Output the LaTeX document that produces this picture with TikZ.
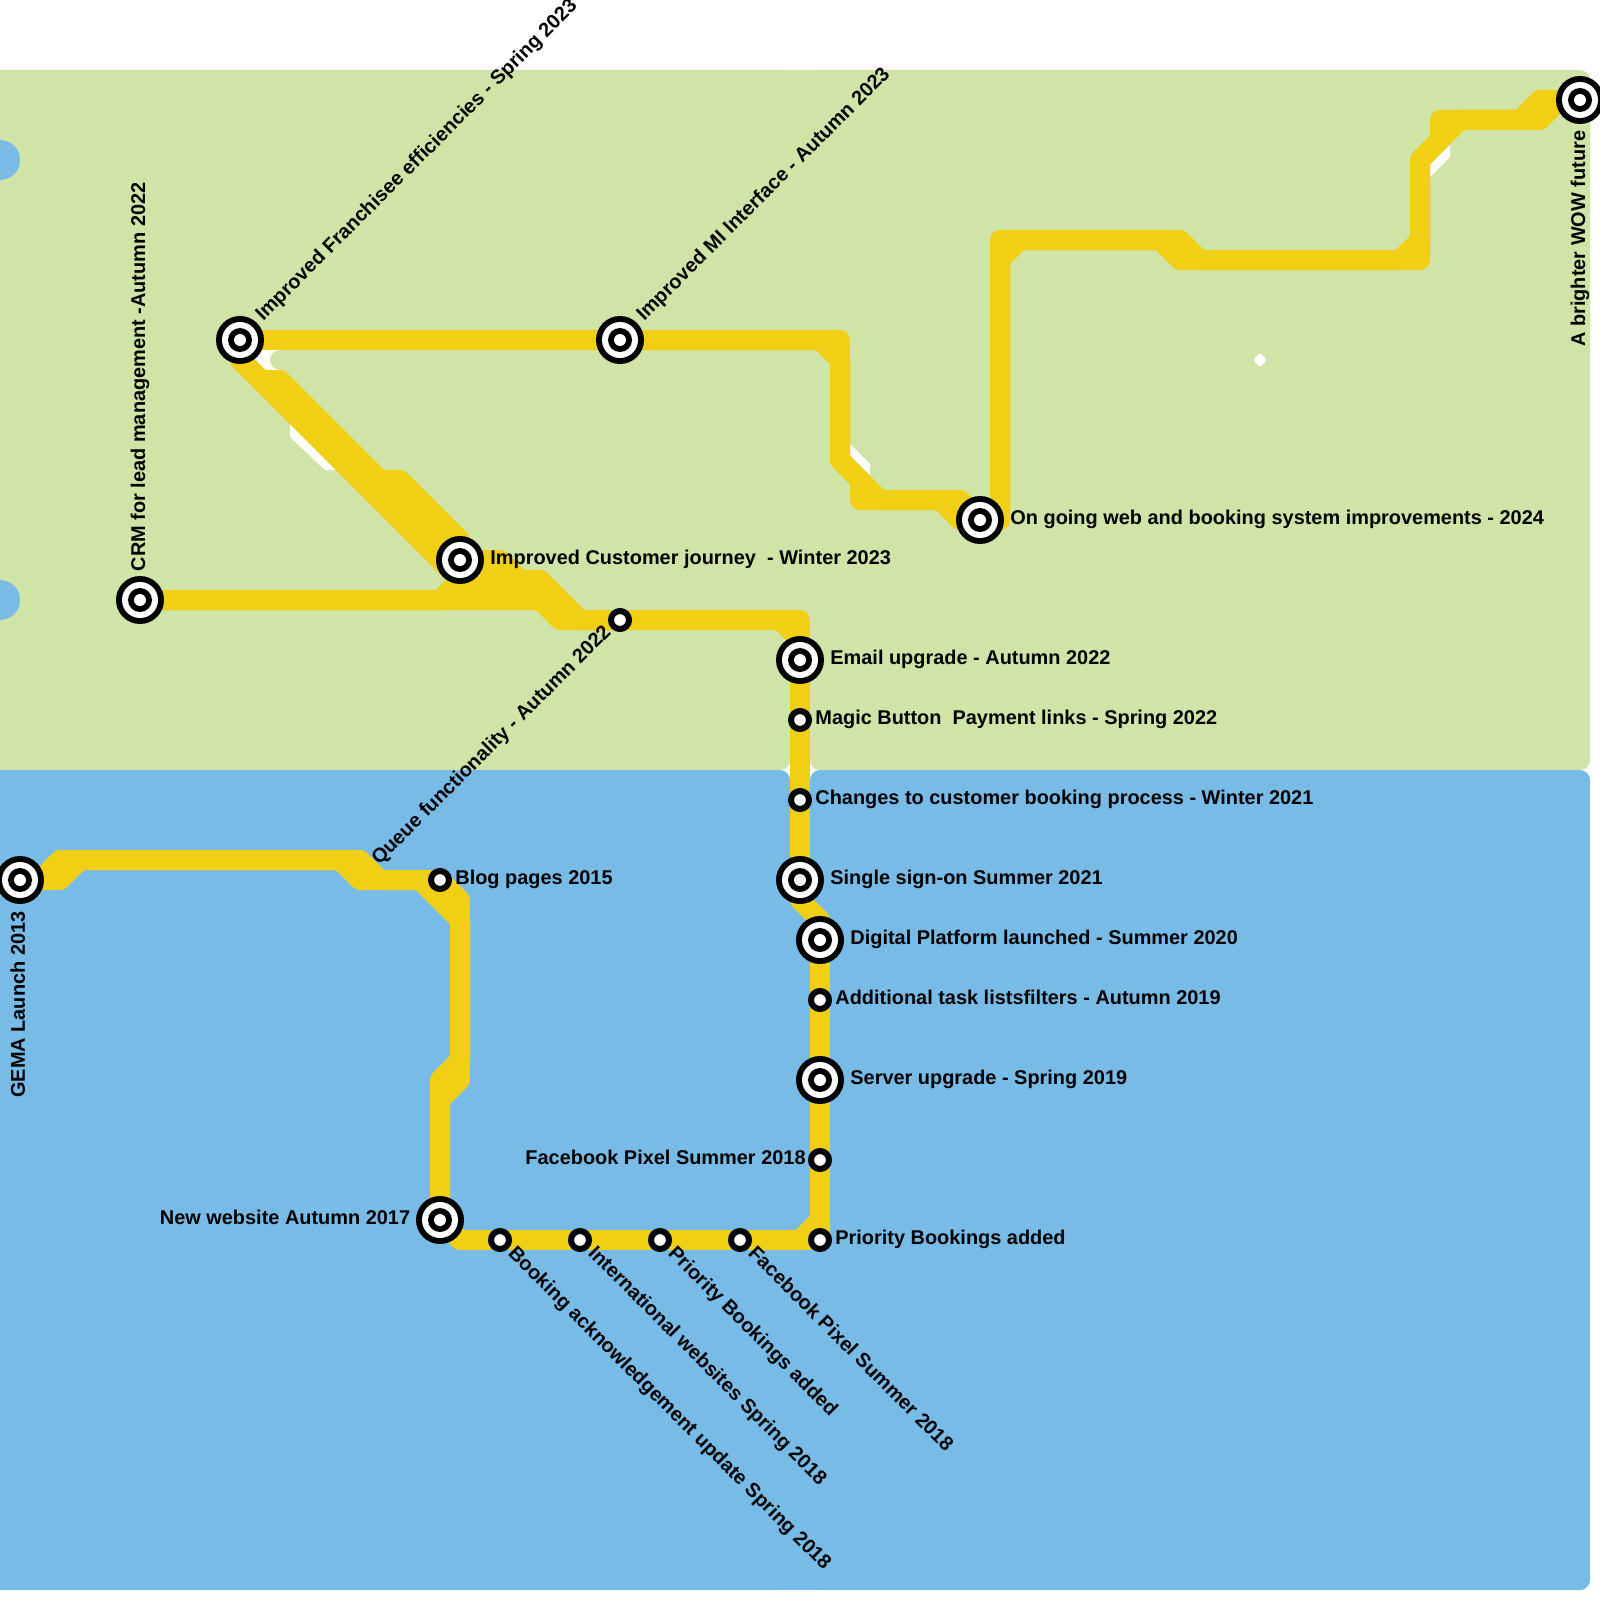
\documentclass[tikz,border=0pt]{standalone}
\usepackage{fontspec}
\setmainfont{Liberation Sans}
\usepackage{xcolor}
\usetikzlibrary{backgrounds}
\definecolor{zonegreen}{HTML}{CFE4A6}
\definecolor{zoneblue}{HTML}{78BBE7}
\definecolor{lineyellow}{HTML}{F0CF14}

\begin{document}
\begin{tikzpicture}[
  x=0.5pt, y=-0.5pt,
  bigstop/.style={circle, fill=black, minimum size=24pt, inner sep=0pt,
    path picture={
      \fill[white] (path picture bounding box.center) circle (9pt);
      \fill[black] (path picture bounding box.center) circle (6pt);
      \fill[white] (path picture bounding box.center) circle (3pt);}},
  smallstop/.style={circle, fill=white, draw=black, line width=3pt,
    minimum size=9pt, inner sep=0pt},
  stoptext/.style={inner sep=0pt, anchor=base west, text=black,
    font=\fontsize{9.96}{12}\selectfont\bfseries},
  endtext/.style={stoptext, anchor=base east},
  track/.style={draw=lineyellow, line width=10pt, line join=round, line cap=round},
  tile/.style={rounded corners=5pt}
]
  \useasboundingbox (0,0) rectangle (1600,1600);
  \clip (0,0) rectangle (1600,1600);

  % Stops, newest at the top
  \node[bigstop] (brighter) at (1580,100) {};
  \node[bigstop] (ongoing) at (980,520) {};
  \node[bigstop] (mi) at (620,340) {};
  \node[bigstop] (franchisee) at (240,340) {};
  \node[bigstop] (customer) at (460,560) {};
  \node[bigstop] (crm) at (140,600) {};
  \node[smallstop] (queue) at (620,620) {};
  \node[bigstop] (email) at (800,660) {};
  \node[smallstop] (magic) at (800,720) {};
  \node[smallstop] (changes) at (800,800) {};
  \node[bigstop] (sso) at (800,880) {};
  \node[bigstop] (digital) at (820,940) {};
  \node[smallstop] (tasks) at (820,1000) {};
  \node[bigstop] (server) at (820,1080) {};
  \node[smallstop] (pixel) at (820,1160) {};
  \node[smallstop] (priority) at (820,1240) {};
  \node[smallstop] (pixelb) at (740,1240) {};
  \node[smallstop] (priorityb) at (660,1240) {};
  \node[smallstop] (intl) at (580,1240) {};
  \node[smallstop] (booking) at (500,1240) {};
  \node[bigstop] (website) at (440,1220) {};
  \node[smallstop] (blog) at (440,880) {};
  \node[bigstop] (gema) at (20,880) {};

  % Labels
  \node[stoptext, rotate=90] (brightertext) at (1585,347) {A brighter WOW future};
  \node[stoptext] (ongoingtext) at (1010,524.5) {On going web and booking system improvements - 2024};
  \node[stoptext, rotate=45] (mitext) at (644,322) {Improved MI Interface - Autumn 2023};
  \node[stoptext, rotate=45] (franchiseetext) at (263,322) {Improved Franchisee efficiencies - Spring 2023};
  \node[stoptext] (customertext) at (490,564.5) {Improved Customer journey\ \ - Winter 2023};
  \node[stoptext, rotate=90] (crmtext) at (145,571.5) {CRM for lead management -Autumn 2022};
  \node[stoptext, rotate=45] (queuetext) at (379,866) {Queue functionality - Autumn 2022};
  \node[stoptext] (emailtext) at (830,664.5) {Email upgrade - Autumn 2022};
  \node[stoptext] (magictext) at (815,724.5) {Magic Button\ \ Payment links - Spring 2022};
  \node[stoptext] (changestext) at (815,804.5) {Changes to customer booking process - Winter 2021};
  \node[stoptext] (ssotext) at (830,884.5) {Single sign-on Summer 2021};
  \node[stoptext] (digitaltext) at (850,944.5) {Digital Platform launched - Summer 2020};
  \node[stoptext] (taskstext) at (835,1004.5) {Additional task listsfilters - Autumn 2019};
  \node[stoptext] (servertext) at (850,1084.5) {Server upgrade - Spring 2019};
  \node[endtext] (pixeltext) at (806,1164.5) {Facebook Pixel Summer 2018};
  \node[stoptext] (prioritytext) at (835,1244.5) {Priority Bookings added};
  \node[stoptext, rotate=-45] (pixelbtext) at (747,1254) {Facebook Pixel Summer 2018};
  \node[stoptext, rotate=-45] (prioritybtext) at (667,1254) {Priority Bookings added};
  \node[stoptext, rotate=-45] (intltext) at (587,1254) {International websites Spring 2018};
  \node[stoptext, rotate=-45] (bookingtext) at (507,1254) {Booking acknowledgement update Spring 2018};
  \node[endtext] (websitetext) at (410.5,1224.5) {New website Autumn 2017};
  \node[stoptext] (blogtext) at (455,884.5) {Blog pages 2015};
  \node[stoptext, rotate=90] (gematext) at (25,1098) {GEMA Launch 2013};

  \begin{scope}[on background layer]
    % Zones
    \fill[zonegreen, tile] (-30,70) rectangle (790,770);
    \fill[zonegreen, tile] (810,70) rectangle (1590,770);
    \fill[zonegreen] (780,70) rectangle (820,760);
    \fill[zoneblue, tile] (-30,770) rectangle (790,1590);
    \fill[zoneblue, tile] (810,770) rectangle (1590,1590);
    \fill[zoneblue] (780,780) rectangle (820,1590);
    \fill[zoneblue] (0,160) circle (10pt);
    \fill[zoneblue] (0,600) circle (10pt);

    % White slivers
    \fill[white] (250,345) -- (280,350) -- (280,370) -- (262,372) -- cycle;
    \fill[zonegreen] (280,360) circle (5pt);
    \fill[white] (290,420) -- (290,437) -- (325,470) -- (340,470) -- cycle;
    \fill[white] (850,444) -- (870,464) -- (870,476) -- (850,456) -- cycle;
    \fill[white] (1450,145) -- (1450,157) -- (1430,177) -- (1430,164) -- cycle;
    \fill[white, rounded corners=1pt] (1260,353) -- (1267,360) -- (1260,367) -- (1253,360) -- cycle;

    % 2013 to 2017
    \draw[track] (gema.center) -- (40,880) -- (60,860) -- (360,860) -- (380,880) -- (blog.center);
    \draw[track] (gema.center) -- (60,880) -- (80,860) -- (340,860) -- (360,880) -- (blog.center);
    \draw[track] (blog.center) -- (460,900) -- (460,1060) -- (440,1080) -- (website.center);
    \draw[track] (blog.center) -- (420,880) -- (460,920) -- (460,1080) -- (440,1100) -- (website.center);

    % 2017 to 2020
    \draw[track] (website.center) -- (460,1240) -- (booking.center);
    \draw[track] (booking.center) -- (intl.center);
    \draw[track] (intl.center) -- (priorityb.center);
    \draw[track] (priorityb.center) -- (pixelb.center);
    \draw[track] (pixelb.center) -- (priority.center);
    \draw[track] (pixelb.center) -- (800,1240) -- (820,1220) -- (priority.center);
    \draw[track] (priority.center) -- (pixel.center);
    \draw[track] (pixel.center) -- (server.center);
    \draw[track] (server.center) -- (tasks.center);
    \draw[track] (tasks.center) -- (digital.center);

    % 2020 to 2022
    \draw[track] (digital.center) -- (820,920) -- (800,900) -- (sso.center);
    \draw[track] (sso.center) -- (changes.center);
    \draw[track] (changes.center) -- (magic.center);
    \draw[track] (magic.center) -- (email.center);
    \draw[track] (email.center) -- (800,620) -- (queue.center);
    \draw[track] (email.center) -- (800,640) -- (780,620) -- (queue.center);
    \draw[track] (queue.center) -- (560,620) -- (540,600) -- (crm.center);
    \draw[track] (queue.center) -- (580,620) -- (540,580) -- (460,580) -- (440,600) -- (crm.center);
    \draw[track] (queue.center) -- (580,620) -- (540,580) -- (520,580) -- (500,560) -- (customer.center);

    % 2023 onwards
    \draw[track, fill=lineyellow] (customer.center) -- (460,540) -- (400,480) -- (380,480) -- (280,380) -- (260,380) -- (240,360) -- (460,580) -- cycle;
    \draw[track] (customer.center) -- (240,360) -- (franchisee.center);
    \draw[track] (franchisee.center) -- (mi.center);
    \draw[track] (mi.center) -- (840,340) -- (840,460) -- (880,500) -- (960,500) -- (980,520) -- (ongoing.center);
    \draw[track] (mi.center) -- (820,340) -- (840,360) -- (840,460) -- (860,480) -- (860,500) -- (940,500) -- (960,520) -- (ongoing.center);
    \draw[track] (ongoing.center) -- (1000,520) -- (1000,240) -- (1180,240) -- (1200,260) -- (1420,260) -- (1420,160) -- (1460,120) -- (1520,120) -- (1540,100) -- (brighter.center);
    \draw[track] (ongoing.center) -- (1000,520) -- (1000,260) -- (1020,240) -- (1160,240) -- (1180,260) -- (1400,260) -- (1420,240) -- (1420,160) -- (1440,140) -- (1440,120) -- (1540,120) -- (1560,100) -- (brighter.center);
  \end{scope}
\end{tikzpicture}
\end{document}
